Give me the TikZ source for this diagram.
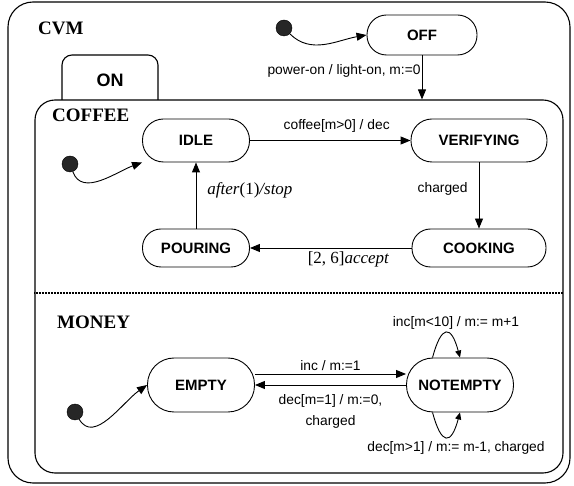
\documentclass[tikz,border=0pt]{standalone}
\usepackage{fontspec}
\setmainfont{Liberation Serif}
\setsansfont{Liberation Sans}
\usetikzlibrary{arrows.meta, positioning}

\begin{document}
\begin{tikzpicture}[
  x=1pt, y=-1pt,
  every node/.style={inner sep=0pt},
  frame/.style={draw, line width=1.1pt},
  st/.style={draw, line width=0.9pt, rounded corners=21pt,
             font=\sffamily\bfseries\fontsize{15}{18}\selectfont},
  bigst/.style={st, rounded corners=26.5pt, minimum height=54pt},
  head/.style={font=\bfseries\fontsize{19}{22}\selectfont, anchor=west},
  lbl/.style={font=\sffamily\fontsize{13.8}{21}\selectfont, align=center},
  tlbl/.style={font=\fontsize{17}{20}\selectfont},
  init/.style={circle, fill=black!85, draw=black, minimum size=16pt},
  arr/.style={-{Triangle[length=10pt,width=8pt]}, line width=0.9pt},
  selfloop/.style={-{Triangle[length=7pt,width=6pt]}, line width=0.9pt, looseness=3.2}
]
\useasboundingbox (0,0) rectangle (574,486);

%% containers
\node[frame, rounded corners=25pt, minimum width=562pt, minimum height=481pt] (cvm) at (289,242.5) {};
\draw[frame, rounded corners=10pt] (62,100) |- (110,55) -| (158,100);
\node[frame, rounded corners=20pt, minimum width=528pt, minimum height=373pt] (on) at (299,286.5) {};
\draw[line width=1.5pt, dash pattern=on 1pt off 0.5pt] (on.west |- 0,293) -- (on.east |- 0,293);

\node[head] (cvmname)    at (38,28)  {CVM};
\node[head] (coffeename) at (52,115) {COFFEE};
\node[head] (moneyname)  at (57,322) {MONEY};
\node[font=\sffamily\bfseries\fontsize{18}{20}\selectfont] (onname) at (110,80) {ON};

%% states
\node[st, minimum width=110pt, minimum height=40pt, rounded corners=19.5pt] (off) at (422,35) {OFF};
\node[st, minimum width=107pt, minimum height=43pt] (idle)      at (196,140.5) {IDLE};
\node[st, minimum width=136pt, minimum height=43pt] (verifying) at (479,140.5) {VERIFYING};
\node[st, minimum width=134pt, minimum height=38pt, rounded corners=18.5pt] (cooking) at (479,248) {COOKING};
\node[st, minimum width=107pt, minimum height=38pt, rounded corners=18.5pt] (pouring) at (196,248) {POURING};
\node[bigst, minimum width=107pt] (empty)    at (201,385) {EMPTY};
\node[bigst, minimum width=107pt] (notempty) at (460,385) {NOTEMPTY};

\node[init] (i0) at (284,28)  {};
\node[init] (i1) at (70,164)  {};
\node[init] (i2) at (75,412)  {};

%% initial transitions
\draw[arr] (i0) to[out=-45, in=190] (off.west);
\draw[arr] (i1) to[out=-70, in=200] (idle.south west);
\draw[arr] (i2) to[out=-60, in=215] (empty.west);

%% transitions
\draw[arr] (off) -- node[lbl, left=1pt, pos=.36] {power-on / light-on, m:=0} (off.south |- on.north);
\draw[arr] (idle) -- node[lbl, above=7.5pt, pos=.54] {coffee[m>0] / dec} (verifying);
\draw[arr] (verifying) -- node[lbl, left=11pt, pos=.4] {charged} (cooking);
\draw[arr] (cooking) -- node[tlbl, below=3pt, pos=.39] {[2, 6]\textit{accept}} (pouring);
\draw[arr] (pouring) -- node[tlbl, right=11pt, pos=.58] {\textit{after}(1)\textit{/stop}} (idle);

\draw[arr] ([yshift=11pt]empty.east) -- node[lbl, above=3pt] {inc / m:=1} ([yshift=11pt]notempty.west);
\draw[arr] (notempty) -- node[lbl, below=9pt] {dec[m=1] / m:=0,\\charged} (empty);

\draw[selfloop] (notempty.135) to[out=75, in=105] (notempty.north);
\draw[selfloop] (notempty.225) to[out=-75, in=-105] (notempty.south);
\node[lbl] (incl) at (456,323) {inc[m<10] / m:= m+1};
\node[lbl] (decl) at (456,448) {dec[m>1] / m:= m-1, charged};
\end{tikzpicture}
\end{document}
